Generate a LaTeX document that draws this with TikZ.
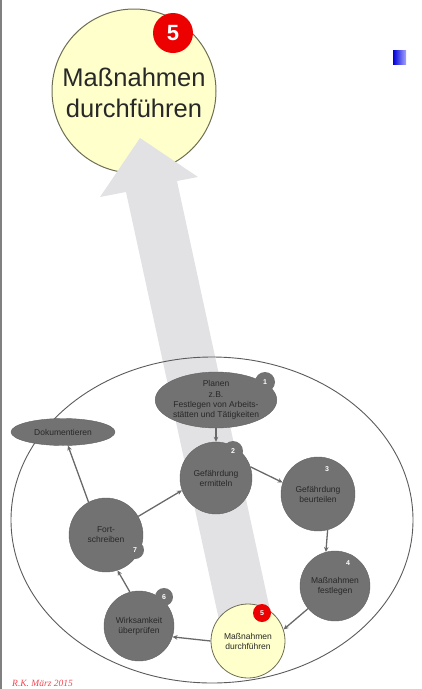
\documentclass[tikz,border=0pt]{standalone}
\usepackage{fontspec}
\setmainfont{Liberation Sans}
\newfontfamily\footfont{Liberation Serif}
\usetikzlibrary{arrows.meta,shapes.geometric}
\definecolor{nodegray}{RGB}{114,114,114}
\definecolor{edgegray}{RGB}{105,105,105}
\definecolor{lightyel}{RGB}{255,255,203}
\definecolor{yelborder}{RGB}{110,110,85}
\definecolor{arrowgray}{RGB}{226,226,229}
\definecolor{badgered}{RGB}{236,0,0}
\definecolor{txtdark}{RGB}{40,40,40}
\definecolor{ringgray}{RGB}{90,90,90}
\definecolor{footred}{RGB}{240,70,80}
\begin{document}
\begin{tikzpicture}[x=1pt,y=-1pt,
  stepcirc/.style={circle, fill=nodegray, draw=nodegray!85!black, line width=0.4pt,
    minimum size=#1, inner sep=0pt, align=center,
    font=\fontsize{8.5}{10}\selectfont, text=txtdark},
  yelcirc/.style={circle, fill=lightyel, draw=yelborder, line width=0.8pt,
    minimum size=#1, inner sep=0pt, align=center, text=txtdark},
  badge/.style={circle, fill=nodegray, minimum size=#1, inner sep=0pt,
    font=\fontsize{7}{7}\selectfont\bfseries, text=white},
  redbadge/.style={circle, fill=badgered, minimum size=#1, inner sep=0pt, text=white},
  conn/.style={draw=edgegray, line width=1.3pt, -{Stealth[length=5pt,width=4.5pt]}}]
\useasboundingbox (0,0) rectangle (421,689);
% left border line
\draw[gray, line width=1.5pt] (1,0) -- (1,689);
% blue marker
\shade[left color=blue!85!black, right color=blue!35] (393,50) rectangle (406,64);
% big circle
\node[yelcirc=164pt, line width=1pt] (big) at (134,91) {};
\node[font=\fontsize{25.5}{31}\selectfont, text=txtdark, align=center] (bigtxt) at (134,93) {Maßnahmen\\durchführen};
\node[redbadge=40pt, font=\fontsize{22}{22}\selectfont\bfseries] (bigbadge) at (173,33) {5};
% big arrow
\fill[arrowgray] (140,138) -- (198,177) -- (177,181) -- (270,610) -- (219,620) -- (126,192) -- (100,197) -- cycle;
% big ellipse
\draw[ringgray, line width=0.9pt] (212,520) ellipse [x radius=201, y radius=163];
% nodes
\node[ellipse, fill=nodegray, draw=nodegray!85!black, line width=0.4pt, minimum width=110pt, minimum height=56pt,
  inner sep=0pt, align=center, font=\fontsize{8.5}{10.3}\selectfont, text=txtdark] (n1) at (216,400)
  {Planen\\z.B.\\Festlegen von Arbeits-\\stätten und Tätigkeiten};
\node[badge=20pt] (b1) at (265,382) {1};
\node[stepcirc=72pt] (n2) at (216,478) {Gefährdung\\ermitteln};
\node[badge=20pt] (b2) at (233,451) {2};
\node[stepcirc=74pt] (n3) at (318,494) {Gefährdung\\beurteilen};
\node[badge=18pt] (b3) at (327,469) {3};
\node[stepcirc=70pt] (n4) at (335,586) {Maßnahmen\\festlegen};
\node[badge=18pt] (b4) at (348,563) {4};
\node[yelcirc=74pt, font=\fontsize{8.5}{10}\selectfont] (n5) at (248,641) {Maßnahmen\\durchführen};
\node[redbadge=18pt, font=\fontsize{7}{7}\selectfont\bfseries] (b5) at (262,613) {5};
\node[stepcirc=70pt] (n6) at (139,626) {Wirksamkeit\\überprüfen};
\node[badge=18pt] (b6) at (164,597) {6};
\node[stepcirc=74pt] (n7) at (106,535) {Fort-\\schreiben};
\node[badge=18pt] (b7) at (135,550) {7};
\node[ellipse, fill=nodegray, draw=nodegray!85!black, line width=0.4pt, minimum width=104pt, minimum height=27pt,
  inner sep=0pt, font=\fontsize{8.5}{10}\selectfont, text=txtdark] (dok) at (63,432) {Dokumentieren};
% connectors
\draw[conn] (n1.south) -- (n2.north);
\draw[conn] (n2.18) -- (n3.162);
\draw[conn] (n3.-75) -- (n4.105);
\draw[conn] (n4.220) -- (n5.18);
\draw[conn] (n5.180) -- (n6.-18);
\draw[conn] (n6.105) -- (n7.-72);
\draw[conn] (n7.30) -- (n2.200);
\draw[conn] (n7.118) -- (dok.-70);
% footer
\node[anchor=base west, inner sep=0pt, font=\footfont\itshape\fontsize{9.5}{10}\selectfont, text=footred] (foot) at (12,686) {R.K. März 2015};
\end{tikzpicture}
\end{document}
